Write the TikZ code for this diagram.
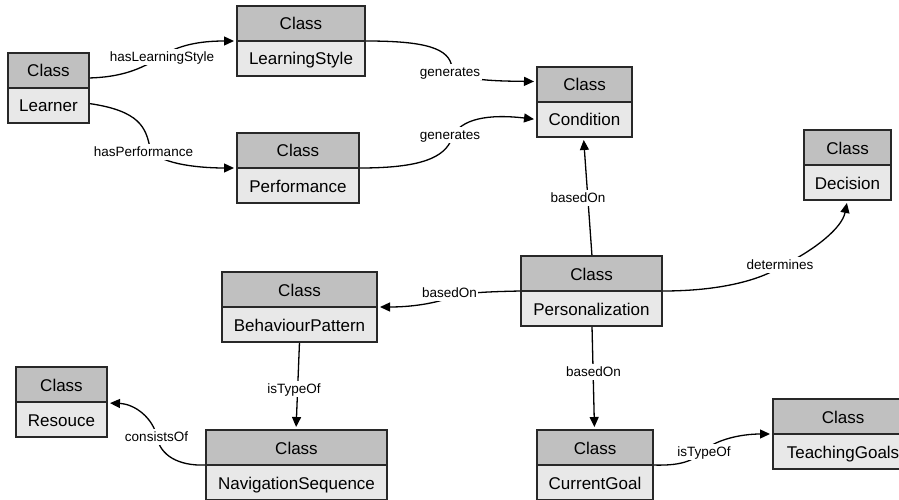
\documentclass[tikz,border=0pt]{standalone}
\usepackage{fontspec}
\setmainfont{Liberation Sans}
\usetikzlibrary{arrows.meta,calc}
\definecolor{hdrgray}{RGB}{192,192,192}
\definecolor{bdygray}{RGB}{232,232,232}
\definecolor{linegray}{RGB}{40,40,40}
\newcommand\umlclass[5]{%
  \node[hdr, minimum width=#4pt, anchor=north west] (#1-h) at (#2,#3) {Class};
  \node[bdy, minimum width=#4pt, anchor=north] (#1) at (#1-h.south) {#5};
}
\begin{document}
\begin{tikzpicture}[x=1pt,y=-1pt,
  boxbase/.style={draw=linegray, line width=1.1pt, rectangle, outer sep=0pt, inner sep=0pt,
    minimum height=35pt, text height=13pt, text depth=0pt,
    font=\fontsize{17}{20}\selectfont},
  hdr/.style={boxbase, fill=hdrgray},
  bdy/.style={boxbase, fill=bdygray},
  conn/.style={draw=black, line width=1.3pt, -{Triangle[length=10pt,width=9pt]},
    shorten >=3pt, shorten <=1pt},
  lbl/.style={fill=white, inner xsep=1.5pt, inner ysep=3pt, text height=9.7pt, text depth=0pt,
    font=\fontsize{13.5}{16}\selectfont}]
\useasboundingbox (0,0) rectangle (899,500);
\clip (0,0) rectangle (899,500);
\fill[white] (0,0) rectangle (899,500);

% classes
\umlclass{learner}{8}{53}{81}{Learner}
\umlclass{lstyle}{237}{6}{128}{LearningStyle}
\umlclass{perf}{237}{133}{122}{Performance}
\umlclass{cond}{537}{67}{95}{Condition}
\umlclass{dec}{804}{130}{87}{Decision}
\umlclass{pers}{521}{256}{141}{Personalization}
\umlclass{bpat}{222}{272}{155}{BehaviourPattern}
\umlclass{res}{16}{367}{91}{Resouce}
\umlclass{nav}{206}{430}{181}{NavigationSequence}
\umlclass{cgoal}{537}{430}{116}{CurrentGoal}
\umlclass{tgoal}{773}{399}{140}{TeachingGoals}

% connectors
\draw[conn] ($(learner-h.south east)+(0,-10)$) .. controls (120,77) and (140,70) .. (160,57)
  .. controls (178,45) and (200,41) .. (lstyle-h.south west);
\draw[conn] ($(learner.east)+(0,-2)$) .. controls (140,111) and (146,128) .. (150,148)
  .. controls (156,163) and (195,168) .. (perf-h.south west);
\draw[conn] (lstyle-h.south east) .. controls (425,41) and (450,48) .. (452,68)
  .. controls (458,80) and (490,81) .. ($(cond-h.west)+(0,-3)$);
\draw[conn] (perf-h.south east) .. controls (420,168) and (445,158) .. (452,138)
  .. controls (460,118) and (490,114) .. (cond.west);
\draw[conn] ($(pers-h.north)+(0.5,0)$) -- ($(cond.south)+(-1,0)$);
\draw[conn] (pers-h.south east) .. controls (720,291) and (760,280) .. (780,267)
  .. controls (815,250) and (842,228) .. (dec.south);
\draw[conn] (pers-h.south west) .. controls (470,292) and (460,294) .. (449,298)
  .. controls (432,304) and (410,307) .. (bpat-h.south east);
\draw[conn] ($(pers.south)+(0.5,0)$) -- ($(cgoal-h.north)+(-0.5,0)$);
\draw[conn] (cgoal-h.south east) .. controls (685,466) and (695,459) .. (705,450)
  .. controls (716,440) and (740,434) .. (tgoal-h.south west);
\draw[conn] (bpat.south) -- ($(nav-h.north)+(-0.5,0)$);
\draw[conn] (nav-h.south west) .. controls (178,466) and (160,455) .. (157,437)
  .. controls (153,418) and (135,404) .. ($(res-h.south east)+(0,1)$);

% labels
\node[lbl] (l1) at (162,57) {hasLearningStyle};
\node[lbl] (l2) at (143.5,152) {hasPerformance};
\node[lbl] (l3) at (450,72) {generates};
\node[lbl] (l4) at (450,135) {generates};
\node[lbl] (l5) at (578,198) {basedOn};
\node[lbl] (l6) at (780,265) {determines};
\node[lbl] (l7) at (449.5,293) {basedOn};
\node[lbl] (l8) at (593.5,372) {basedOn};
\node[lbl] (l9) at (704,452) {isTypeOf};
\node[lbl] (l10) at (294,389) {isTypeOf};
\node[lbl] (l11) at (156.5,437) {consistsOf};
\end{tikzpicture}
\end{document}
